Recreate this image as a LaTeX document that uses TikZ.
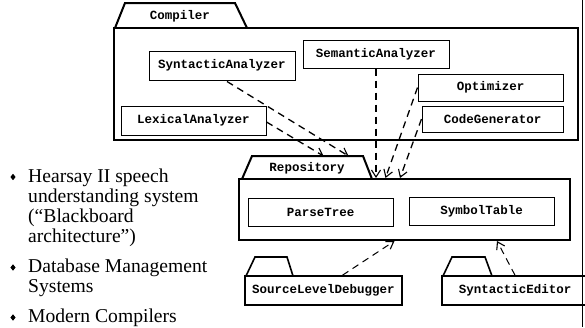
\documentclass[tikz,border=0pt]{standalone}
\usepackage{fontspec}
\setmainfont{Liberation Serif}
\setmonofont{Liberation Mono}
\usetikzlibrary{arrows.meta,calc}
\begin{document}
\begin{tikzpicture}[x=1pt,y=-1pt,
  pkgbox/.style={draw, line width=2pt, inner sep=0pt},
  pkgtab/.style={draw, line width=2pt, line join=miter},
  pkglabel/.style={font=\ttfamily\bfseries\fontsize{12.5}{14}\selectfont, inner sep=0pt},
  cls/.style={draw, line width=1pt, inner sep=0pt,
    font=\ttfamily\bfseries\fontsize{12.5}{14}\selectfont},
  dep/.style={line width=1.3pt, dash pattern=on 7pt off 5pt,
    -{Straight Barb[length=7pt,width=9pt,line width=1.1pt]}},
  item/.style={anchor=base west, inner sep=0pt, align=left,
    font=\fontsize{19.6}{20}\selectfont}
]
\useasboundingbox (0,0) rectangle (585,327);

% right margin rule
\draw[line width=1.2pt] (582.5,0) -- (582.5,327);

% ---------- Compiler package ----------
\node[pkgbox, minimum width=464pt, minimum height=112pt] (compiler) at (346,84) {};
\draw[pkgtab] (115,28) -- (125,3) -- (235,3) -- (247,28);
\node[pkglabel] (compilerlbl) at (180,16) {Compiler};

\node[cls, minimum width=146pt, minimum height=29pt] (syn) at (222,65.5) {SyntacticAnalyzer};
\node[cls, minimum width=146pt, minimum height=28pt] (sem) at (376,54) {SemanticAnalyzer};
\node[cls, minimum width=145pt, minimum height=27pt] (opt) at (490.5,87.5) {Optimizer};
\node[cls, minimum width=141pt, minimum height=26pt] (cg) at (492.5,119) {CodeGenerator};
\node[cls, minimum width=145pt, minimum height=29pt] (lex) at (193.5,120.5) {LexicalAnalyzer};

% ---------- Repository package ----------
\node[pkgbox, minimum width=331pt, minimum height=61pt] (repo) at (404.5,209.5) {};
\draw[pkgtab] (242,179) -- (252,156) -- (363,156) -- (372,179);
\coordinate (rtab) at (307.5,156);
\node[pkglabel] (repolbl) at (307,168.5) {Repository};

\node[cls, minimum width=145pt, minimum height=28pt] (pt) at (320.5,212) {ParseTree};
\node[cls, minimum width=145pt, minimum height=28pt] (st) at (481.5,211) {SymbolTable};

% ---------- tool packages ----------
\node[pkgbox, line width=1.6pt, minimum width=157pt, minimum height=29pt,
  font=\ttfamily\bfseries\fontsize{12.5}{14}\selectfont] (sld) at (323.5,290.5) {SourceLevelDebugger};
\draw[pkgtab, line width=1.6pt] (246,276) -- (255,257) -- (287,257) -- (293,276);

\node[pkgbox, line width=1.6pt, minimum width=146pt, minimum height=29pt,
  font=\ttfamily\bfseries\fontsize{12.5}{14}\selectfont] (se) at (515,290.5) {SyntacticEditor};
\draw[pkgtab, line width=1.6pt] (443,276) -- (452,257) -- (485,257) -- (492,276);

% ---------- dependencies ----------
\draw[dep] ($(syn.south)+(5,1)$) -- ($(rtab)+(41,0)$);
\draw[dep] ($(lex.east)+(0,1.5)$) -- ($(rtab)+(16,0)$);
\draw[dep] (sem.south) -- (sem.south |- repo.north);
\draw[dep] (opt.west) -- ($(repo.north)+(-19,0)$);
\draw[dep] (cg.west) -- ($(repo.north)+(-4.5,0)$);
\draw[dep, line width=1pt] ($(sld.north)+(19,0)$) -- ($(repo.south)+(-10,0)$);
\draw[dep, line width=1pt] (se.north) -- ($(repo.south)+(92.5,0)$);

% ---------- bullet list (anchored on the last line's baseline) ----------
\node[item] (i1) at (28,242) {Hearsay II speech\\understanding system\\(``Blackboard\\architecture'')};
\node[item] (i2) at (28,292) {Database Management\\Systems};
\node[item] (i3) at (28,322) {Modern Compilers};
\foreach \y in {177, 267.5, 317.5}
  \fill (13,\y) +(-2.6,0) -- +(0,-3.2) -- +(2.6,0) -- +(0,3.2) -- cycle;
\end{tikzpicture}
\end{document}
